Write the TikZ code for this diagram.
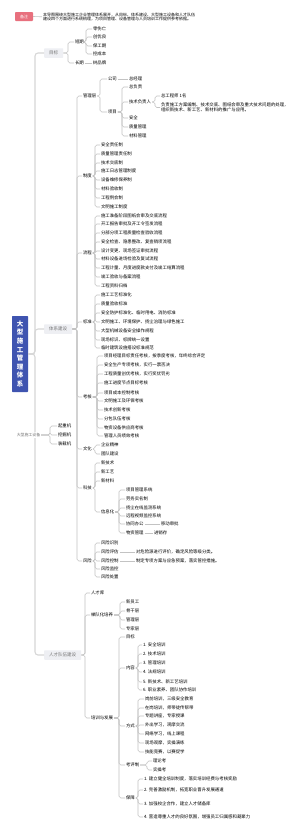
\documentclass[tikz,border=0pt]{standalone}
\usepackage{fontspec}
\newfontfamily\cjk{Noto Sans CJK SC}
\definecolor{rootblue}{RGB}{63,84,176}
\definecolor{notepink}{RGB}{232,112,126}
\definecolor{boxgray}{RGB}{238,239,243}
\definecolor{linegray}{RGB}{195,195,195}
\definecolor{trunkgray}{RGB}{215,215,215}
\newcommand\mmleaf[4]{\node[leaf] (#1) at (#2,#3) {#4};}
\newcommand\mmbr[3]{\coordinate (mmbx) at (#2,0);\foreach \mmc in {#3}{\draw[conn] (#1.east) -- (#1.east -| mmbx) |- (\mmc.west);}}
\newcommand\mmln[2]{\draw[conn] (#1.east) -- (#2.west);}
\begin{document}
\begin{tikzpicture}[x=1pt,y=-1pt,
  leaf/.style={anchor=west, inner sep=0.8pt, font=\cjk\fontsize{4.4}{5}\selectfont, text=black},
  conn/.style={draw=linegray, line width=0.6pt, rounded corners=1.8pt},
  trunk/.style={draw=trunkgray, line width=1.1pt, rounded corners=3pt},
  mainbox/.style={anchor=west, fill=boxgray, text=black!55, font=\cjk\fontsize{4.5}{5}\selectfont, inner xsep=5pt, inner ysep=0pt, minimum height=9.5pt, rounded corners=0.6pt},
  rootbox/.style={fill=rootblue, text=white, font=\cjk\bfseries\fontsize{6.5}{8.6}\selectfont, align=center, minimum width=16pt, minimum height=76pt, inner sep=0pt, rounded corners=0.6pt},
  pinkbox/.style={fill=notepink, text=white, font=\cjk\fontsize{4}{5}\selectfont, minimum width=18pt, minimum height=9pt, inner sep=0pt, rounded corners=0.8pt},
  eqlabel/.style={fill=white, text=black!55, font=\cjk\fontsize{3.9}{5}\selectfont, inner sep=0.8pt}
]
\useasboundingbox (0,0) rectangle (300,831);
\fill[white] (0,0) rectangle (300,831);

% note
\node[pinkbox] (note) at (24,16.5) {备注};
\node[leaf, font=\cjk\fontsize{4}{4.3}\selectfont, align=left] (notetx) at (42,16.8) {本导图围绕大型施工企业管理体系展开，从目标、体系建设、大型施工设备和人才队伍\\建设四个方面进行系统梳理，为项目管理、设备管理与人员培训工作提供参考依据。};
\draw[conn] (note.east) -- (notetx.west);

% root and main topics
\node[rootbox] (root) at (20,354) {大\\型\\施\\工\\管\\理\\体\\系};
\node[mainbox] (goal) at (44,53) {目标};
\node[mainbox] (sys) at (44,329) {体系建设};
\node[mainbox] (tal) at (44,655) {人才队伍建设};
\draw[trunk] (root.east) -- (35,354) |- (goal.west);
\draw[trunk] (root.east) -- (35,354) |- (sys.west);
\draw[trunk] (root.east) -- (35,354) |- (tal.west);

% goal
\mmleaf{ga}{74}{42}{短期}
\mmleaf{gb}{74}{63}{长期}
\mmleaf{ga1}{92}{29}{零伤亡}
\mmleaf{ga2}{92}{37}{创优良}
\mmleaf{ga3}{92}{46}{保工期}
\mmleaf{ga4}{92}{54}{控成本}
\mmleaf{gb1}{92}{63}{树品牌}
\mmbr{goal}{68}{ga,gb}
\mmbr{ga}{86}{ga1,ga2,ga3,ga4}
\mmln{gb}{gb1}

% system: level 2
\mmleaf{s1}{82}{96}{管理层}
\mmleaf{s2}{82}{176}{制度}
\mmleaf{s3}{82}{253}{流程}
\mmleaf{s4}{82}{322}{标准}
\mmleaf{s5}{82}{397}{考核}
\mmleaf{s6}{82}{449}{文化}
\mmleaf{s7}{82}{488}{科技}
\mmleaf{s8}{82}{561}{风险}
\mmbr{sys}{77}{s1,s2,s3,s4,s5,s6,s7,s8}

% s1
\mmleaf{s1a}{107}{79}{公司}
\mmleaf{s1a1}{128}{79}{总经理}
\mmleaf{s1b}{107}{112}{项目}
\mmleaf{s1b1}{128}{87}{总负责}
\mmleaf{s1b2}{128}{102}{技术负责人}
\mmleaf{s1b2a}{160}{96}{总工程师 1名}
\node[leaf, align=left] (s1b2b) at (160,107.5) {负责施工方案编制、技术交底、图纸会审及重大技术问题的处理，\\组织新技术、新工艺、新材料的推广与应用。};
\mmleaf{s1b3}{128}{118}{安全}
\mmleaf{s1b4}{128}{127}{质量管理}
\mmleaf{s1b5}{128}{136}{材料管理}
\mmbr{s1}{100}{s1a,s1b}
\mmln{s1a}{s1a1}
\mmbr{s1b}{122}{s1b1,s1b2,s1b3,s1b4,s1b5}
\mmbr{s1b2}{155}{s1b2a,s1b2b}

% s2
\mmleaf{s2a}{100}{145}{安全责任制}
\mmleaf{s2b}{100}{154}{质量管理责任制}
\mmleaf{s2c}{100}{163}{技术交底制}
\mmleaf{s2d}{100}{171}{施工日志管理制度}
\mmleaf{s2e}{100}{180}{设备维修保养制}
\mmleaf{s2f}{100}{189}{材料验收制}
\mmleaf{s2g}{100}{198}{工程例会制}
\mmleaf{s2h}{100}{207}{文明施工制度}
\mmbr{s2}{95}{s2a,s2b,s2c,s2d,s2e,s2f,s2g,s2h}

% s3
\mmleaf{s3a}{100}{216}{施工准备阶段图纸会审及交底流程}
\mmleaf{s3b}{100}{224}{开工报告审批及开工令签发流程}
\mmleaf{s3c}{100}{233}{分部分项工程质量检查验收流程}
\mmleaf{s3d}{100}{242}{安全检查、隐患整改、复查销项流程}
\mmleaf{s3e}{100}{251}{设计变更、现场签证审批流程}
\mmleaf{s3f}{100}{259}{材料设备进场检验及复试流程}
\mmleaf{s3g}{100}{268}{工程计量、月度进度款支付及竣工结算流程}
\mmleaf{s3h}{100}{277}{竣工验收与备案流程}
\mmleaf{s3i}{100}{286}{工程资料归档}
\mmbr{s3}{95}{s3a,s3b,s3c,s3d,s3e,s3f,s3g,s3h,s3i}

% s4
\mmleaf{s4a}{100}{295}{施工工艺标准化}
\mmleaf{s4b}{100}{304}{质量验收标准}
\mmleaf{s4c}{100}{313}{安全防护标准化、临时用电、消防标准}
\mmleaf{s4d}{100}{322}{文明施工、环境保护、扬尘治理与绿色施工}
\mmleaf{s4e}{100}{331}{大型机械设备安全操作规程}
\mmleaf{s4f}{100}{340}{现场标识、标牌统一设置}
\mmleaf{s4g}{100}{348}{临时建筑设施搭设标准规范}
\mmbr{s4}{95}{s4a,s4b,s4c,s4d,s4e,s4f,s4g}

% s5
\mmleaf{s5a}{103}{356}{项目经理目标责任考核，按季度考核，年终综合评定}
\mmleaf{s5b}{103}{365}{安全生产专项考核，实行一票否决}
\mmleaf{s5c}{103}{374}{工程质量创优考核，实行奖优罚劣}
\mmleaf{s5d}{103}{383}{施工进度节点目标考核}
\mmleaf{s5e}{103}{393}{项目成本控制考核}
\mmleaf{s5f}{103}{401}{文明施工及环保考核}
\mmleaf{s5g}{103}{410}{技术创新考核}
\mmleaf{s5h}{103}{419}{分包队伍考核}
\mmleaf{s5i}{103}{428}{物资设备供应商考核}
\mmleaf{s5j}{103}{436}{管理人员绩效考核}
\mmbr{s5}{97}{s5a,s5b,s5c,s5d,s5e,s5f,s5g,s5h,s5i,s5j}

% s6
\mmleaf{s6a}{100}{445}{企业精神}
\mmleaf{s6b}{100}{454}{团队建设}
\mmbr{s6}{95}{s6a,s6b}

% s7
\mmleaf{s7a}{100}{463}{新技术}
\mmleaf{s7b}{100}{472}{新工艺}
\mmleaf{s7c}{100}{481}{新材料}
\mmleaf{s7d}{100}{512}{信息化}
\mmbr{s7}{95}{s7a,s7b,s7c,s7d}
\mmleaf{s7d1}{125}{490}{项目管理系统}
\mmleaf{s7d2}{125}{499}{劳务实名制}
\mmleaf{s7d3}{125}{508}{扬尘在线监测系统}
\mmleaf{s7d4}{125}{516}{远程视频监控系统}
\mmleaf{s7d5}{125}{524}{协同办公}
\mmleaf{s7d6}{125}{533}{物资管理}
\mmbr{s7d}{119}{s7d1,s7d2,s7d3,s7d4,s7d5,s7d6}
\mmleaf{s7d5a}{160}{524}{移动审批}
\mmleaf{s7d6a}{153}{533}{进销存}
\mmln{s7d5}{s7d5a}
\mmln{s7d6}{s7d6a}

% s8
\mmleaf{s8a}{100}{543}{风险识别}
\mmleaf{s8b}{100}{552}{风险评估}
\mmleaf{s8c}{100}{561}{风险控制}
\mmleaf{s8d}{100}{569}{风险监控}
\mmleaf{s8e}{100}{577}{风险处置}
\mmbr{s8}{95}{s8a,s8b,s8c,s8d,s8e}
\mmleaf{s8b1}{135}{552}{对危险源进行评价，确定风险等级分类。}
\mmleaf{s8c1}{135}{561}{制定专项方案与应急预案，落实管控措施。}
\mmln{s8b}{s8b1}
\mmln{s8c}{s8c1}

% equipment (floating)
\node[eqlabel] (eq) at (28.5,435) {大型施工设备};
\mmleaf{e1}{57}{426}{起重机}
\mmleaf{e2}{57}{435}{挖掘机}
\mmleaf{e3}{57}{444}{装载机}
\mmbr{eq}{50}{e1,e2,e3}

% talent
\mmleaf{t1}{90}{593}{人才库}
\mmleaf{t2}{90}{615}{梯队化培养}
\mmleaf{t3}{90}{718}{培训与发展}
\mmbr{tal}{85}{t1,t2,t3}
\mmleaf{t2a}{125}{602}{新员工}
\mmleaf{t2b}{125}{611}{骨干层}
\mmleaf{t2c}{125}{620}{管理层}
\mmleaf{t2d}{125}{629}{专家层}
\mmbr{t2}{120}{t2a,t2b,t2c,t2d}

\mmleaf{t3a}{125}{637}{目标}
\mmleaf{t3b}{125}{668}{内容}
\mmleaf{t3c}{125}{726}{方式}
\mmleaf{t3d}{125}{765}{考评制}
\mmleaf{t3e}{125}{798}{保障}
\mmbr{t3}{119}{t3a,t3b,t3c,t3d,t3e}

\mmleaf{t3b1}{142}{645}{1. 安全培训}
\mmleaf{t3b2}{142}{654}{2. 技术培训}
\mmleaf{t3b3}{142}{663}{3. 管理培训}
\mmleaf{t3b4}{142}{672}{4. 法规培训}
\mmleaf{t3b5}{142}{682}{5. 新技术、新工艺培训}
\mmleaf{t3b6}{142}{690}{6. 职业素养、团队协作培训}
\mmbr{t3b}{138}{t3b1,t3b2,t3b3,t3b4,t3b5,t3b6}

\mmleaf{t3c1}{144}{699}{岗前培训，三级安全教育}
\mmleaf{t3c2}{144}{708}{在岗培训，师带徒传帮带}
\mmleaf{t3c3}{144}{716}{专题讲座，专家授课}
\mmleaf{t3c4}{144}{725}{外出学习，观摩交流}
\mmleaf{t3c5}{144}{734}{网络学习，线上课程}
\mmleaf{t3c6}{144}{743}{现场观摩，实操演练}
\mmleaf{t3c7}{144}{752}{技能竞赛，以赛促学}
\mmbr{t3c}{138}{t3c1,t3c2,t3c3,t3c4,t3c5,t3c6,t3c7}

\mmleaf{t3d1}{152}{761}{理论考}
\mmleaf{t3d2}{152}{770}{实操考}
\mmbr{t3d}{147}{t3d1,t3d2}

\mmleaf{t3e1}{143}{779}{1. 建立健全培训制度，落实培训经费与考核奖励}
\mmleaf{t3e2}{143}{790}{2. 完善激励机制，拓宽职业晋升发展通道}
\mmleaf{t3e3}{143}{804}{3. 加强校企合作，建立人才储备库}
\mmleaf{t3e4}{143}{817}{4. 营造尊重人才的良好氛围，增强员工归属感和凝聚力}
\mmbr{t3e}{138}{t3e1,t3e2,t3e3,t3e4}
\end{tikzpicture}
\end{document}
